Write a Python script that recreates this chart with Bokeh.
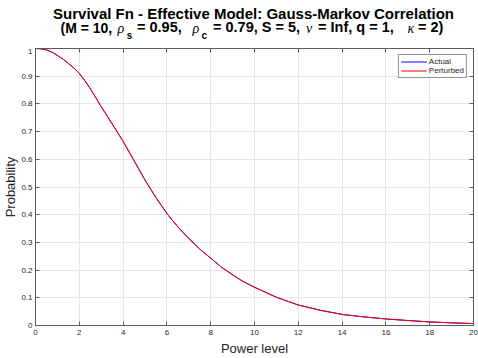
from bokeh.plotting import figure
from bokeh.layouts import column
from bokeh.models import (Range1d, FixedTicker, LinearAxis, Legend,
                          LegendItem, ColumnDataSource, Grid, Div)
from bokeh.embed import file_html
from bokeh.resources import INLINE

# ---------------- data ----------------
power_level = [0, 0.25, 0.5, 0.75, 1, 1.25, 1.5, 1.75, 2, 2.25, 2.5, 2.75, 3,
               3.5, 4, 4.5, 5, 5.5, 6, 6.5, 7, 7.5, 8, 8.5, 9, 9.5, 10, 11,
               12, 13, 14, 15, 16, 17, 18, 19, 20]
actual = [1.0, 0.999, 0.995, 0.987, 0.975, 0.962, 0.946, 0.93, 0.91, 0.884,
          0.855, 0.823, 0.79, 0.728, 0.665, 0.595, 0.525, 0.462, 0.404,
          0.356, 0.314, 0.276, 0.243, 0.21, 0.183, 0.158, 0.138, 0.102,
          0.074, 0.055, 0.04, 0.031, 0.0236, 0.018, 0.013, 0.0095, 0.007]
perturbed = [1.0, 0.999, 0.995, 0.987, 0.975, 0.962, 0.946, 0.93, 0.91, 0.884,
             0.855, 0.823, 0.79, 0.728, 0.665, 0.595, 0.525, 0.462, 0.404,
             0.356, 0.314, 0.276, 0.243, 0.21, 0.183, 0.158, 0.138, 0.102,
             0.074, 0.055, 0.04, 0.031, 0.0236, 0.018, 0.013, 0.0095, 0.007]

x_ticks = [0, 2, 4, 6, 8, 10, 12, 14, 16, 18, 20]
x_tick_labels = ["0", "2", "4", "6", "8", "10", "12", "14", "16", "18", "20"]
y_ticks = [0, 0.1, 0.2, 0.3, 0.4, 0.5, 0.6, 0.7, 0.8, 0.9, 1]
y_tick_labels = ["0", "0.1", "0.2", "0.3", "0.4", "0.5", "0.6", "0.7", "0.8",
                 "0.9", "1"]

title_line1 = "Survival Fn - Effective Model: Gauss-Markov Correlation"
x_label = "Power level"
y_label = "Probability"
series_names = ["Actual", "Perturbed"]

# ---------------- layout ----------------
W = 478
TITLE_H = 48
MAIN_H = 310
TXT = "#262626"
AX = "#5a5a5a"
SANS = "Liberation Sans"
GREEK = "Liberation Serif"

# ---- title (HTML, so that subscripts are real text) ----
def piece(text, left, top, size, lh, weight="bold", italic=False, font=SANS,
          center=False):
    st = ("position:absolute;white-space:nowrap;left:%.1fpx;top:%.2fpx;"
          "font-family:'%s';font-size:%.1fpx;line-height:%dpx;"
          "font-weight:%s;font-style:%s;color:black;"
          % (left, top, font, size, lh, weight,
             "italic" if italic else "normal"))
    if center:
        st += "transform:translateX(-50%);"
    return '<span style="%s">%s</span>' % (st, text)

T1 = 6.8     # line 1, baseline ~19
T2 = 21.48   # 14.5px pieces, baseline ~33
TG = 21.78   # greek letters, baseline ~33
TS = 30.53   # subscripts, baseline ~38.5
parts = [
    piece(title_line1, 253.5, T1, 15, 14, center=True),
    piece("(M = 10,", 60.5, T2 + 0.3, 14, 13),
    piece("\u03c1", 117.5, TG, 14, 13, weight="normal", italic=True, font=GREEK),
    piece("s", 126.8, TS, 10, 9),
    piece("= 0.95,", 137.0, T2, 14.5, 13),
    piece("\u03c1", 192.5, TG, 14, 13, weight="normal", italic=True, font=GREEK),
    piece("c", 201.5, TS, 10, 9),
    piece("= 0.79, S = 5,", 213.0, T2, 14.5, 13),
    piece("\u03bd", 306.0, TG, 14, 13, weight="normal", italic=True, font=GREEK),
    piece("= Inf, q = 1,", 318.0, T2, 14.5, 13),
    piece("\u03ba", 407.5, TG, 14, 13, weight="normal", italic=True, font=GREEK),
    piece("= 2)", 418.0, T2, 14.5, 13),
]
title_html = ('<div style="position:relative;width:%dpx;height:%dpx;'
              'margin:0;padding:0;">%s</div>' % (W, TITLE_H, "".join(parts)))
title_div = Div(text=title_html, width=W, height=TITLE_H, margin=0)

# ---- main plot ----
p = figure(width=W, height=MAIN_H, output_backend="svg",
           toolbar_location=None, x_range=Range1d(0, 20),
           y_range=Range1d(0, 1), min_border_left=31, min_border_right=5,
           min_border_top=0, min_border_bottom=31,
           x_axis_type=None, y_axis_type=None)
p.outline_line_color = None
p.margin = 0

def make_axis(ticks, labels, show_labels, title=None, label_standoff=3,
              title_standoff=0):
    ax = LinearAxis(ticker=FixedTicker(ticks=ticks))
    ax.major_label_overrides = {tk: lb for tk, lb in zip(ticks, labels)}
    ax.major_tick_in = 4
    ax.major_tick_out = 0
    ax.minor_tick_line_color = None
    ax.axis_line_color = AX
    ax.axis_line_width = 1
    ax.major_tick_line_color = AX
    ax.major_label_text_color = TXT
    ax.major_label_text_font = SANS
    if show_labels:
        ax.major_label_text_font_size = "8px"
        ax.major_label_standoff = label_standoff
    else:
        ax.major_label_text_font_size = "0px"
        ax.major_label_standoff = 0
    if title:
        ax.axis_label = title
        ax.axis_label_text_font = SANS
        ax.axis_label_text_font_size = "13px"
        ax.axis_label_text_font_style = "normal"
        ax.axis_label_text_color = TXT
        ax.axis_label_standoff = title_standoff
    return ax

p.add_layout(make_axis(x_ticks, x_tick_labels, True, x_label, 4, 3), "below")
p.add_layout(make_axis(y_ticks, y_tick_labels, True, y_label, 3, 0), "left")
p.add_layout(make_axis(x_ticks, x_tick_labels, False), "above")
p.add_layout(make_axis(y_ticks, y_tick_labels, False), "right")

p.add_layout(Grid(dimension=0, ticker=FixedTicker(ticks=x_ticks),
                  grid_line_color="#e6e6e6"))
p.add_layout(Grid(dimension=1, ticker=FixedTicker(ticks=y_ticks),
                  grid_line_color="#e6e6e6"))

src = ColumnDataSource(dict(x=power_level, a=actual, b=perturbed))
r1 = p.line("x", "a", source=src, line_color="#0000ff", line_width=1)
r2 = p.line("x", "b", source=src, line_color="#ff0000", line_width=1)

legend = Legend(items=[LegendItem(label=series_names[0], renderers=[r1]),
                       LegendItem(label=series_names[1], renderers=[r2])],
                location="top_right")
legend.margin = 6
legend.padding = 2
legend.spacing = 0
legend.glyph_width = 26
legend.glyph_height = 9
legend.label_height = 9
legend.label_standoff = 2
legend.label_text_font = SANS
legend.label_text_font_size = "8px"
legend.label_text_color = TXT
legend.border_line_color = "#262626"
legend.border_line_width = 1
legend.background_fill_color = "white"
legend.background_fill_alpha = 1
p.add_layout(legend)

layout = column(title_div, p, spacing=0)
open("out.html", "w").write(file_html(layout, INLINE))
